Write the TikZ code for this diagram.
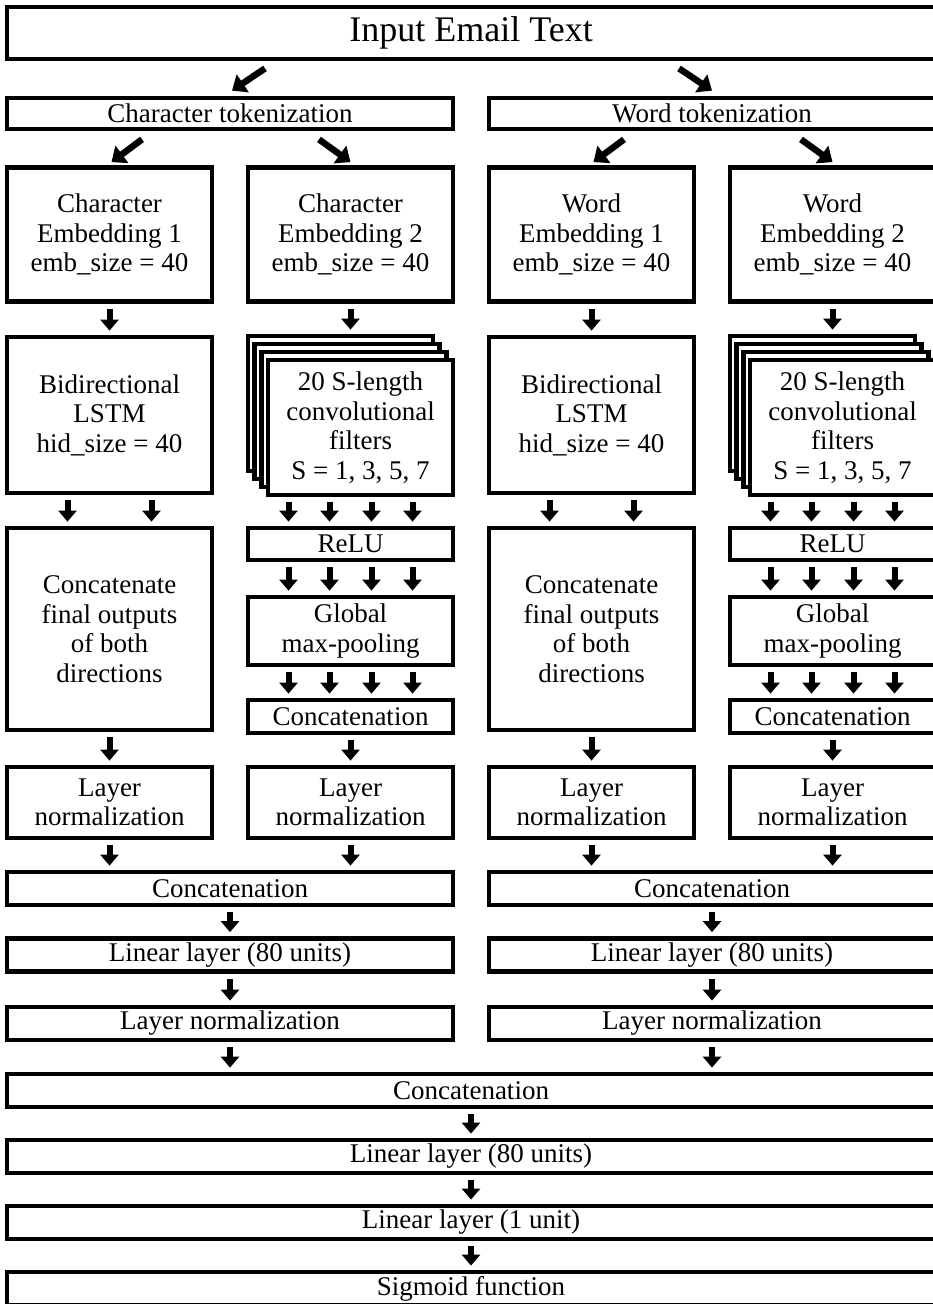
\documentclass[tikz,border=0pt]{standalone}
\usepackage{fontspec}
\setmainfont{Liberation Serif}
\usetikzlibrary{arrows.meta}
\usetikzlibrary{calc}
\newcommand{\widthcol}{205pt}
\newcommand{\widthhalf}{446pt}
\newcommand{\widthfull}{928pt}
\newcommand{\widthfilt}{185pt}
\tikzset{
    common/.style={draw, rectangle, line width=4.8pt, fill=white, inner sep=0pt, align=center, font=\fontsize{27}{29.5}\selectfont},
    colbox/.style={common, minimum width=\widthcol},
    halfbox/.style={common, minimum width=\widthhalf, minimum height=33pt},
    fullbox/.style={common, minimum width=\widthfull, minimum height=33pt},
    filtbox/.style={common, minimum width=\widthfilt, minimum height=135pt},
    arr/.style={line width=6pt, -{Triangle[width=18pt,length=11pt]}, shorten <=5pt, shorten >=4pt},
    diag/.style={arr, line width=6.5pt, -{Triangle[width=21pt,length=13pt]}, shorten <=0pt, shorten >=0pt}
}
\begin{document}
\begin{tikzpicture}[x=1pt, y=-1pt]
    \useasboundingbox (0,0) rectangle (933,1304);
    \clip (0,0) rectangle (933,1304);

    \node[fullbox, minimum height=52pt, font=\fontsize{36}{40}\selectfont] (inp) at (471,33) {Input Email Text};

    % character branch, then word branch shifted right
    \foreach \pf/\dx/\lab in {c/0/Character, w/482/Word} {
        \node[halfbox, minimum height=31pt] (\pf tok) at (230+\dx,113.5) {\lab{} tokenization};
        \node[colbox, minimum height=134pt] (\pf emb1) at (109.5+\dx,234.5) {\lab\\Embedding 1\\emb\_size = 40};
        \node[colbox, minimum height=134pt] (\pf emb2) at (350.5+\dx,234.5) {\lab\\Embedding 2\\emb\_size = 40};
        \node[colbox, minimum height=156pt] (\pf lstm) at (109.5+\dx,415) {Bidirectional\\LSTM\\hid\_size = 40};
        \foreach \k in {3,2,1}
            \node[filtbox] (\pf conv\k) at (360.5+\dx-6.67*\k,427.5-8*\k) {};
        \node[filtbox] (\pf conv) at (360.5+\dx,427.5) {20 S-length\\convolutional\\filters\\S = 1, 3, 5, 7};
        \node[colbox, minimum height=32pt] (\pf relu) at (350.5+\dx,544) {ReLU};
        \node[colbox, minimum height=202pt] (\pf fin) at (109.5+\dx,629) {Concatenate\\final outputs\\of both\\directions};
        \node[colbox, minimum height=68pt] (\pf glob) at (350.5+\dx,631) {Global\\max-pooling};
        \node[colbox, minimum height=33pt] (\pf cat) at (350.5+\dx,716.5) {Concatenation};
        \node[colbox, minimum height=71pt] (\pf norm1) at (109.5+\dx,802.5) {Layer\\normalization};
        \node[colbox, minimum height=71pt] (\pf norm2) at (350.5+\dx,802.5) {Layer\\normalization};
        \node[halfbox] (\pf hcat) at (230+\dx,888.5) {Concatenation};
        \node[halfbox] (\pf hlin) at (230+\dx,955) {Linear layer (80 units)};
        \node[halfbox] (\pf hnorm) at (230+\dx,1023.5) {Layer normalization};

        \draw[diag] ($(\pf tok.south)+(-88,8)$) -- ($(\pf emb1.north)+(2,-3)$);
        \draw[diag] ($(\pf tok.south)+(89,8)$) -- ($(\pf emb2.north)+(0,-3)$);
        \draw[arr] (\pf emb1) -- (\pf lstm);
        \draw[arr] (\pf emb2.south) -- (\pf emb2.south |- \pf conv3.north);
        \foreach \s in {-42,42}
            \draw[arr] ($(\pf lstm.south)+(\s,0)$) -- ($(\pf fin.north)+(\s,0)$);
        \foreach \s in {-62,-21,21,62} {
            \draw[arr] ($(\pf relu.north |- \pf conv.south)+(\s,0)$) -- ($(\pf relu.north)+(\s,0)$);
            \draw[arr] ($(\pf relu.south)+(\s,0)$) -- ($(\pf glob.north)+(\s,0)$);
            \draw[arr] ($(\pf glob.south)+(\s,0)$) -- ($(\pf cat.north)+(\s,0)$);
        }
        \draw[arr] (\pf fin) -- (\pf norm1);
        \draw[arr] (\pf cat) -- (\pf norm2);
        \draw[arr] (\pf norm1.south) -- (\pf norm1.south |- \pf hcat.north);
        \draw[arr] (\pf norm2.south) -- (\pf norm2.south |- \pf hcat.north);
        \draw[arr] (\pf hcat) -- (\pf hlin);
        \draw[arr] (\pf hlin) -- (\pf hnorm);
    }

    \draw[diag] ($(inp.south)+(-206,7)$) -- ($(ctok.north)+(2,-5)$);
    \draw[diag] ($(inp.south)+(208,7)$) -- ($(wtok.north)+(0,-5)$);

    % merged head
    \node[fullbox] (cat) at (471,1090.5) {Concatenation};
    \node[fullbox] (lin80) at (471,1156.5) {Linear layer (80 units)};
    \node[fullbox] (lin1) at (471,1222.5) {Linear layer (1 unit)};
    \node[fullbox] (sig) at (471,1288.5) {Sigmoid function};
    \draw[arr] (chnorm.south) -- (chnorm.south |- cat.north);
    \draw[arr] (whnorm.south) -- (whnorm.south |- cat.north);
    \draw[arr] (cat) -- (lin80);
    \draw[arr] (lin80) -- (lin1);
    \draw[arr] (lin1) -- (sig);
\end{tikzpicture}
\end{document}
